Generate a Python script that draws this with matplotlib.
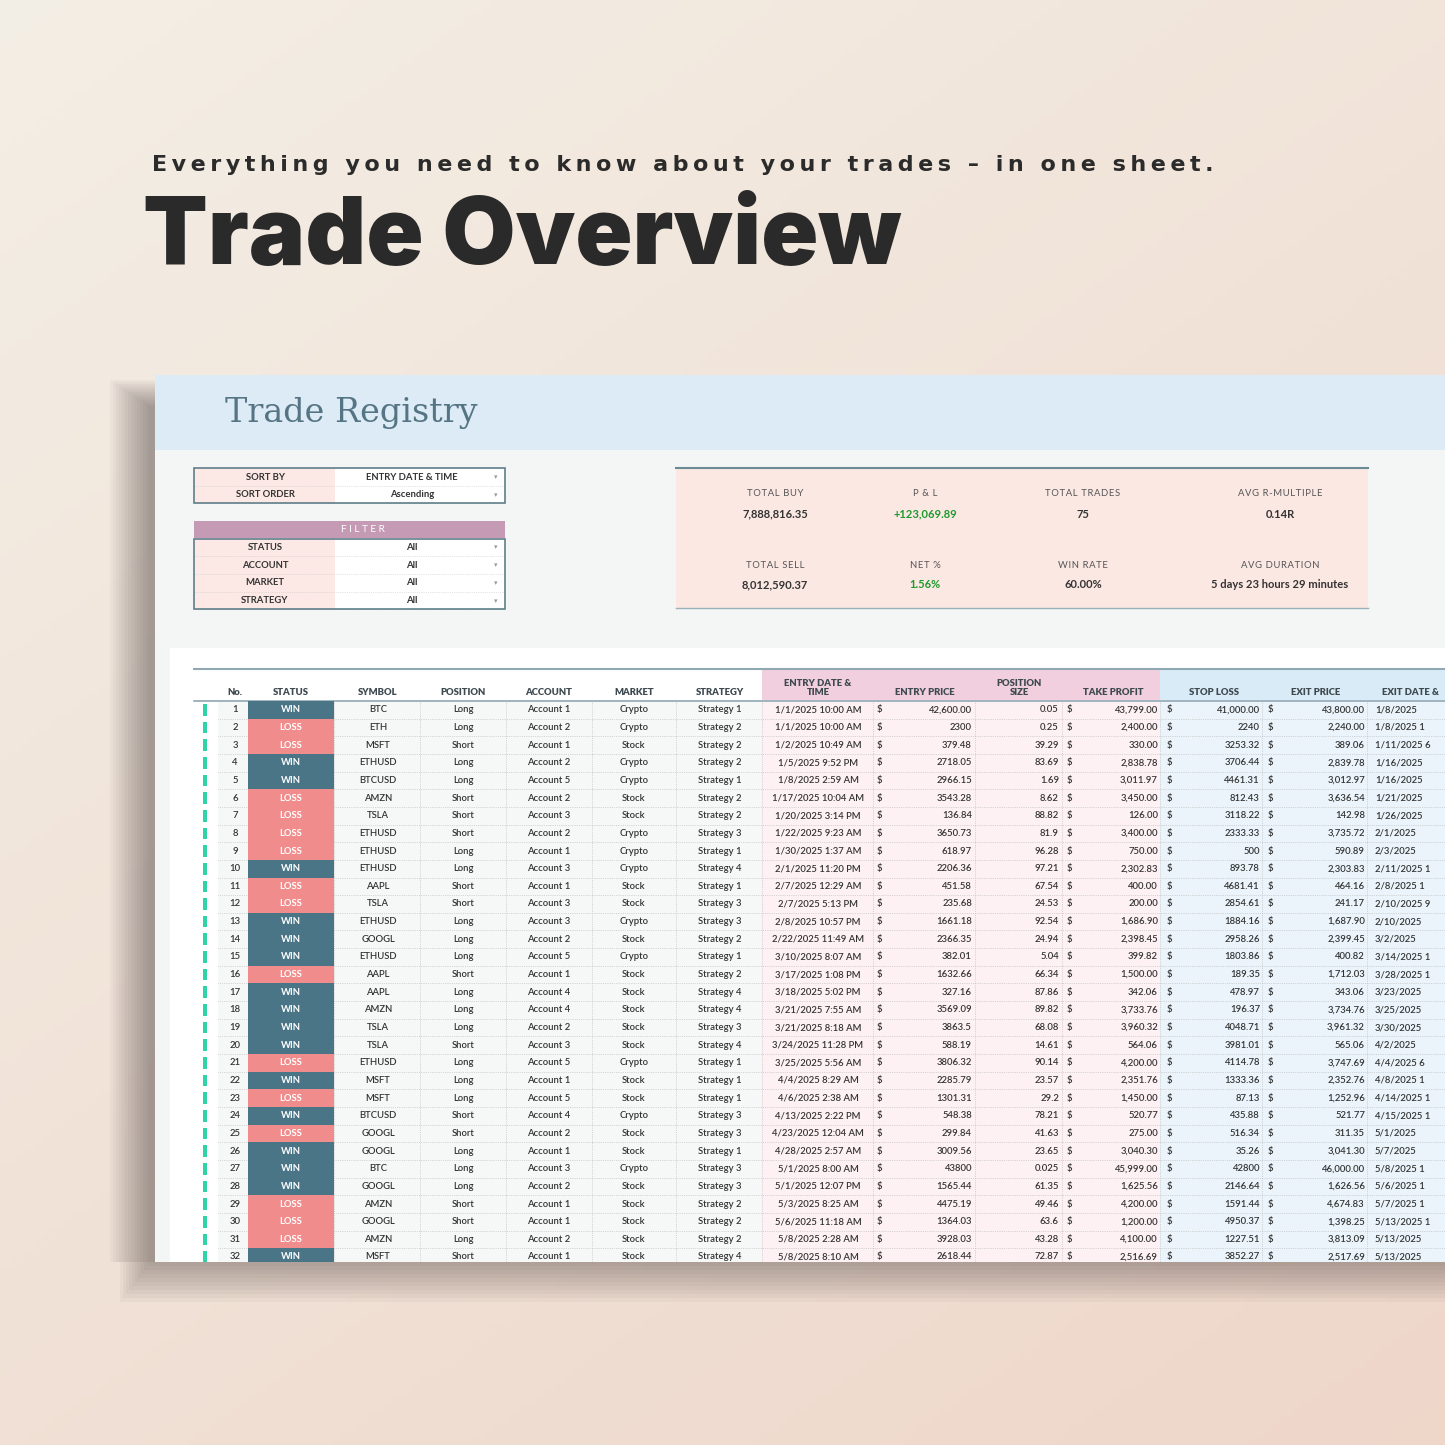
import numpy as np
import matplotlib.pyplot as plt
from matplotlib.patches import Rectangle

W = H = 1445

# ---- data ----
nos = list(range(1, 33))
status = ["WIN", "LOSS", "LOSS", "WIN", "WIN", "LOSS", "LOSS", "LOSS", "LOSS", "WIN",
          "LOSS", "LOSS", "WIN", "WIN", "WIN", "LOSS", "WIN", "WIN", "WIN", "WIN",
          "LOSS", "WIN", "LOSS", "WIN", "LOSS", "WIN", "WIN", "WIN", "LOSS", "LOSS",
          "LOSS", "WIN"]
symbols = ["BTC", "ETH", "MSFT", "ETHUSD", "BTCUSD", "AMZN", "TSLA", "ETHUSD", "ETHUSD", "ETHUSD",
           "AAPL", "TSLA", "ETHUSD", "GOOGL", "ETHUSD", "AAPL", "AAPL", "AMZN", "TSLA", "TSLA",
           "ETHUSD", "MSFT", "MSFT", "BTCUSD", "GOOGL", "GOOGL", "BTC", "GOOGL", "AMZN", "GOOGL",
           "AMZN", "MSFT"]
positions = ["Long", "Long", "Short", "Long", "Long", "Short", "Short", "Short", "Long", "Long",
             "Short", "Short", "Long", "Long", "Long", "Short", "Long", "Long", "Long", "Short",
             "Long", "Long", "Long", "Short", "Short", "Long", "Long", "Long", "Short", "Short",
             "Long", "Short"]
accounts = [1, 2, 1, 2, 5, 2, 3, 2, 1, 3, 1, 3, 3, 2, 5, 1, 4, 4, 2, 3, 5, 1, 5, 4, 2, 1, 3, 2, 1, 1, 2, 1]
markets = ["Crypto", "Crypto", "Stock", "Crypto", "Crypto", "Stock", "Stock", "Crypto", "Crypto", "Crypto",
           "Stock", "Stock", "Crypto", "Stock", "Crypto", "Stock", "Stock", "Stock", "Stock", "Stock",
           "Crypto", "Stock", "Stock", "Crypto", "Stock", "Stock", "Crypto", "Stock", "Stock", "Stock",
           "Stock", "Stock"]
strategies = [1, 2, 2, 2, 1, 2, 2, 3, 1, 4, 1, 3, 3, 2, 1, 2, 4, 4, 3, 4, 1, 1, 1, 3, 3, 1, 3, 3, 2, 2, 2, 4]
entry_dates = ["1/1/2025 10:00 AM", "1/1/2025 10:00 AM", "1/2/2025 10:49 AM", "1/5/2025 9:52 PM",
               "1/8/2025 2:59 AM", "1/17/2025 10:04 AM", "1/20/2025 3:14 PM", "1/22/2025 9:23 AM",
               "1/30/2025 1:37 AM", "2/1/2025 11:20 PM", "2/7/2025 12:29 AM", "2/7/2025 5:13 PM",
               "2/8/2025 10:57 PM", "2/22/2025 11:49 AM", "3/10/2025 8:07 AM", "3/17/2025 1:08 PM",
               "3/18/2025 5:02 PM", "3/21/2025 7:55 AM", "3/21/2025 8:18 AM", "3/24/2025 11:28 PM",
               "3/25/2025 5:56 AM", "4/4/2025 8:29 AM", "4/6/2025 2:38 AM", "4/13/2025 2:22 PM",
               "4/23/2025 12:04 AM", "4/28/2025 2:57 AM", "5/1/2025 8:00 AM", "5/1/2025 12:07 PM",
               "5/3/2025 8:25 AM", "5/6/2025 11:18 AM", "5/8/2025 2:28 AM", "5/8/2025 8:10 AM"]
entry_price = ["42,600.00", "2300", "379.48", "2718.05", "2966.15", "3543.28", "136.84", "3650.73",
               "618.97", "2206.36", "451.58", "235.68", "1661.18", "2366.35", "382.01", "1632.66",
               "327.16", "3569.09", "3863.5", "588.19", "3806.32", "2285.79", "1301.31", "548.38",
               "299.84", "3009.56", "43800", "1565.44", "4475.19", "1364.03", "3928.03", "2618.44"]
pos_size = ["0.05", "0.25", "39.29", "83.69", "1.69", "8.62", "88.82", "81.9", "96.28", "97.21",
            "67.54", "24.53", "92.54", "24.94", "5.04", "66.34", "87.86", "89.82", "68.08", "14.61",
            "90.14", "23.57", "29.2", "78.21", "41.63", "23.65", "0.025", "61.35", "49.46", "63.6",
            "43.28", "72.87"]
take_profit = ["43,799.00", "2,400.00", "330.00", "2,838.78", "3,011.97", "3,450.00", "126.00", "3,400.00",
               "750.00", "2,302.83", "400.00", "200.00", "1,686.90", "2,398.45", "399.82", "1,500.00",
               "342.06", "3,733.76", "3,960.32", "564.06", "4,200.00", "2,351.76", "1,450.00", "520.77",
               "275.00", "3,040.30", "45,999.00", "1,625.56", "4,200.00", "1,200.00", "4,100.00", "2,516.69"]
stop_loss = ["41,000.00", "2240", "3253.32", "3706.44", "4461.31", "812.43", "3118.22", "2333.33",
             "500", "893.78", "4681.41", "2854.61", "1884.16", "2958.26", "1803.86", "189.35",
             "478.97", "196.37", "4048.71", "3981.01", "4114.78", "1333.36", "87.13", "435.88",
             "516.34", "35.26", "42800", "2146.64", "1591.44", "4950.37", "1227.51", "3852.27"]
exit_price = ["43,800.00", "2,240.00", "389.06", "2,839.78", "3,012.97", "3,636.54", "142.98", "3,735.72",
              "590.89", "2,303.83", "464.16", "241.17", "1,687.90", "2,399.45", "400.82", "1,712.03",
              "343.06", "3,734.76", "3,961.32", "565.06", "3,747.69", "2,352.76", "1,252.96", "521.77",
              "311.35", "3,041.30", "46,000.00", "1,626.56", "4,674.83", "1,398.25", "3,813.09", "2,517.69"]
exit_dates = ["1/8/2025", "1/8/2025 1", "1/11/2025 6", "1/16/2025", "1/16/2025", "1/21/2025", "1/26/2025",
              "2/1/2025", "2/3/2025", "2/11/2025 1", "2/8/2025 1", "2/10/2025 9", "2/10/2025", "3/2/2025",
              "3/14/2025 1", "3/28/2025 1", "3/23/2025", "3/25/2025", "3/30/2025", "4/2/2025", "4/4/2025 6",
              "4/8/2025 1", "4/14/2025 1", "4/15/2025 1", "5/1/2025", "5/7/2025", "5/8/2025 1", "5/6/2025 1",
              "5/7/2025 1", "5/13/2025 1", "5/13/2025", "5/13/2025"]

stat_labels = ["TOTAL BUY", "P & L", "TOTAL TRADES", "AVG R-MULTIPLE",
               "TOTAL SELL", "NET %", "WIN RATE", "AVG DURATION"]
stat_values = ["7,888,816.35", "+123,069.89", "75", "0.14R",
               "8,012,590.37", "1.56%", "60.00%", "5 days 23 hours 29 minutes"]

fig = plt.figure(figsize=(14.45, 14.45), dpi=100)
ax = fig.add_axes([0, 0, 1, 1])
ax.set_xlim(0, W); ax.set_ylim(H, 0); ax.axis('off')

# background gradient
gx, gy = np.meshgrid(np.linspace(0, 1, 200), np.linspace(0, 1, 200))
t = (gx * 0.5 + gy * 0.7) / 1.2
c0 = np.array([0.955, 0.935, 0.900]); c1 = np.array([0.935, 0.840, 0.790])
img = c0[None, None, :] * (1 - t[..., None]) + c1[None, None, :] * t[..., None]
ax.imshow(img, extent=[0, W, H, 0], aspect='auto', zorder=0)

# headline
sub = "Everything you need to know about your trades – in one sheet."
ax.text(152, 165, "\u2009".join(sub), fontsize=16, color='#2b2b2b', fontweight='bold',
        family='DejaVu Sans', va='center', ha='left')
ax.text(143, 240, "Trade Overview", fontsize=68, color='#2a2a2a', fontweight='black',
        family='Inter', va='center', ha='left')

# shadow
for i in range(14):
    ax.add_patch(Rectangle((155 - 45 + i * 3, 380 + i * 2), 1400, 925 - i * 5,
                           facecolor='#3a3030', alpha=0.035, lw=0, zorder=1))

# sheet
SX0, SY0, SY1 = 155, 375, 1262
ax.add_patch(Rectangle((SX0, SY0), W - SX0, SY1 - SY0, facecolor='#f4f6f6', lw=0, zorder=2))
ax.add_patch(Rectangle((SX0, SY0), W - SX0, 75, facecolor='#dcebf5', lw=0, zorder=2))
ax.add_patch(Rectangle((SX0 + 15, 648), W - SX0, SY1 - 648, facecolor='#ffffff', lw=0, zorder=2))
ax.text(225, 413, "Trade Registry", fontsize=24, color='#557484', family='DejaVu Serif',
        va='center', ha='left', zorder=3)

FS = 6.8
FONT = 'Lato'

# sort / filter controls
def control_rows(y0, labels, values):
    for i, (lab, val) in enumerate(zip(labels, values)):
        y = y0 + i * 17.7
        ax.add_patch(Rectangle((194, y), 141, 17.7, facecolor='#fce9e5', lw=0, zorder=3))
        ax.add_patch(Rectangle((335, y), 170, 17.7, facecolor='#ffffff', lw=0, zorder=3))
        ax.plot([194, 505], [y + 17.7, y + 17.7], color='#c8c8c8', lw=0.5, ls=':', zorder=4)
        ax.text(265, y + 9, lab, fontsize=FS, family=FONT, fontweight='bold', color='#333',
                ha='center', va='center', zorder=5)
        ax.text(412, y + 9, val, fontsize=FS, family=FONT, fontweight='bold', color='#333',
                ha='center', va='center', zorder=5)
        ax.text(496, y + 9, "▾", fontsize=5, color='#999', ha='center', va='center', zorder=5)
    ax.add_patch(Rectangle((194, y0), 311, 17.7 * len(labels), facecolor='none',
                           edgecolor='#5f7f8a', lw=1.2, zorder=6))

control_rows(468, ["SORT BY", "SORT ORDER"], ["ENTRY DATE & TIME", "Ascending"])
ax.add_patch(Rectangle((194, 521), 311, 17, facecolor='#c49ab4', lw=0, zorder=3))
ax.text(363, 530, "\u2009\u2009".join("FILTER"), fontsize=FS + 0.5, color='white', family=FONT,
        ha='center', va='center', zorder=5)
control_rows(538.5, ["STATUS", "ACCOUNT", "MARKET", "STRATEGY"], ["All"] * 4)

# stats box
ax.add_patch(Rectangle((676, 468), 692, 140, facecolor='#fbe8e3', lw=0, zorder=3))
ax.plot([676, 1368], [468, 468], color='#6a8a94', lw=1.5, zorder=4)
ax.plot([676, 1368], [608, 608], color='#9ab0b8', lw=1, zorder=4)
scx = [775, 925, 1083, 1280]
for i, (lab, val) in enumerate(zip(stat_labels, stat_values)):
    x = scx[i % 4]
    y = 494 if i < 4 else 565
    ax.text(x, y, "\u200a".join(lab), fontsize=6.8, family=FONT, color='#555',
            ha='center', va='center', zorder=5)
    col = '#1c9a2c' if i in (1, 5) else '#333'
    ax.text(x, y + 20, val, fontsize=8, family=FONT, fontweight='bold', color=col,
            ha='center', va='center', zorder=5)

# table header
ax.add_patch(Rectangle((762, 670), 398, 30, facecolor='#f1cfde', lw=0, zorder=3))
ax.add_patch(Rectangle((1160, 670), W - 1160, 30, facecolor='#d9ebf6', lw=0, zorder=3))
ax.plot([194, W], [669, 669], color='#8fa8b2', lw=1.5, zorder=4)
ax.plot([194, W], [701, 701], color='#8fa8b2', lw=1.2, zorder=4)
heads = [(235, "No."), (291, "STATUS"), (378, "SYMBOL"), (463, "POSITION"), (549, "ACCOUNT"),
         (634, "MARKET"), (720, "STRATEGY"), (818, "ENTRY DATE &\nTIME"), (925, "ENTRY PRICE"),
         (1019, "POSITION\nSIZE"), (1113, "TAKE PROFIT"), (1214, "STOP LOSS"), (1316, "EXIT PRICE"),
         (1410, "EXIT DATE &")]
for x, h in heads:
    ax.text(x, 697, h, fontsize=FS, family=FONT, fontweight='heavy', color='#3e4a50',
            ha='center', va='bottom', linespacing=1.0, zorder=5)

# column fills
RH = 17.65
y_top = 701
ax.add_patch(Rectangle((762, y_top), 398, SY1 - y_top, facecolor='#fdf1f4', lw=0, zorder=3))
ax.add_patch(Rectangle((1160, y_top), W - 1160, SY1 - y_top, facecolor='#eaf4fa', lw=0, zorder=3))
ax.add_patch(Rectangle((218, y_top), 544, SY1 - y_top, facecolor='#f6f7f7', lw=0, zorder=3))

for xv in [248, 334, 420, 506, 592, 676, 762, 873, 975, 1062, 1160, 1262, 1367]:
    ax.plot([xv, xv], [y_top, SY1], color='#b5b5b5', lw=0.5, ls=':', zorder=4)

for i in range(len(nos)):
    yc = y_top + RH * (i + 0.5)
    if yc > SY1 + 4:
        break
    yb = y_top + RH * (i + 1)
    win = status[i] == "WIN"
    ax.add_patch(Rectangle((248, y_top + RH * i), 86, RH, facecolor='#4a7586' if win else '#f18c8c',
                           lw=0, zorder=4))
    ax.add_patch(Rectangle((203, y_top + RH * i + 3), 4, RH - 6, facecolor='#2fd3a6', lw=0, zorder=4))
    ax.plot([218, W], [yb, yb], color='#b5b5b5', lw=0.5, ls=':', zorder=4)
    kw = dict(fontsize=FS, family=FONT, fontweight='semibold', color='#333', va='center', zorder=5)
    ax.text(235, yc, str(nos[i]), ha='center', **kw)
    ax.text(291, yc, status[i], ha='center', fontsize=FS, family=FONT, fontweight='bold',
            color='white', va='center', zorder=5)
    ax.text(378, yc, symbols[i], ha='center', **kw)
    ax.text(463, yc, positions[i], ha='center', **kw)
    ax.text(549, yc, f"Account {accounts[i]}", ha='center', **kw)
    ax.text(634, yc, markets[i], ha='center', **kw)
    ax.text(720, yc, f"Strategy {strategies[i]}", ha='center', **kw)
    ax.text(818, yc, entry_dates[i], ha='center', **kw)
    for dx in (877, 1067, 1167, 1268):
        ax.text(dx, yc, "$", ha='left', **kw)
    ax.text(972, yc, entry_price[i], ha='right', **kw)
    ax.text(1059, yc, pos_size[i], ha='right', **kw)
    ax.text(1158, yc, take_profit[i], ha='right', **kw)
    ax.text(1260, yc, stop_loss[i], ha='right', **kw)
    ax.text(1365, yc, exit_price[i], ha='right', **kw)
    ax.text(1375, yc, exit_dates[i], ha='left', **kw)

# clip table at sheet bottom
bot = img[int(SY1 / H * 200):, :, :]
ax.imshow(bot, extent=[0, W, H, SY1], aspect='auto', zorder=7)
for i in range(10):
    ax.add_patch(Rectangle((120 + i * 3, SY1), 1400, 40 - i * 4, facecolor='#3a3030',
                           alpha=0.04, lw=0, zorder=8))
ax.set_xlim(0, W); ax.set_ylim(H, 0)

fig.savefig("out.png", dpi=100)
